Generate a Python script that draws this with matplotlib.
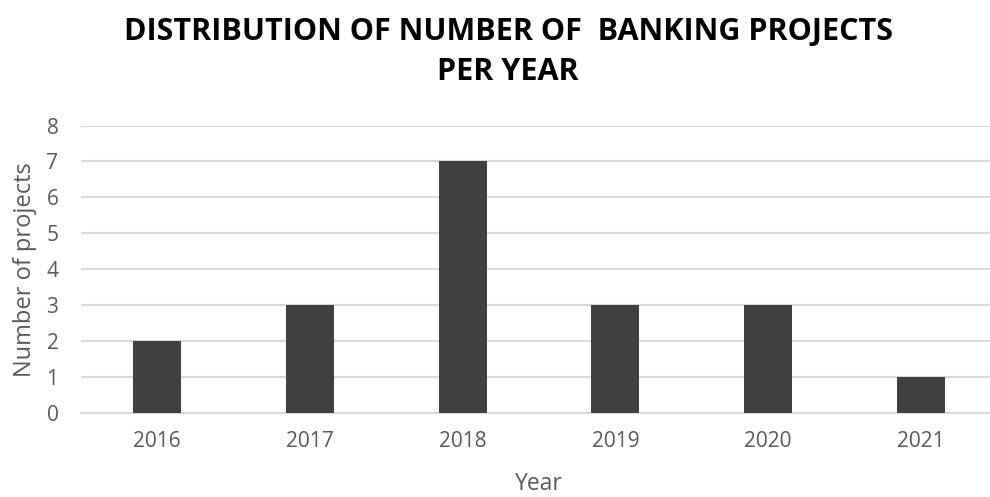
import matplotlib.pyplot as plt

years = ["2016", "2017", "2018", "2019", "2020", "2021"]
projects = [2, 3, 7, 3, 3, 1]

plt.rcParams['font.family'] = ['Open Sans', 'DejaVu Sans']

fig = plt.figure(figsize=(9.9, 4.97), dpi=100)
# axes runs a little past the right edge, gridlines get cut there
ax = fig.add_axes([80.6 / 990, 84 / 497, 916.8 / 990, 287.5 / 497])

x = range(len(years))
ax.bar(x, projects, width=0.315, color="#404040", zorder=3)

ax.set_xlim(-0.5, len(years) - 0.5)
ax.set_ylim(0, 8)
ax.set_yticks(range(0, 9))
ax.set_xticks(list(x))
ax.set_xticklabels(years)
ax.yaxis.grid(True, color="#d9d9d9", linewidth=1.5, zorder=0)
ax.set_axisbelow(True)

for s in ["top", "right", "left"]:
    ax.spines[s].set_visible(False)
ax.spines["bottom"].set_color("#d9d9d9")
ax.spines["bottom"].set_linewidth(1.5)
ax.tick_params(axis="both", length=0, labelsize=15, colors="#595959")
ax.tick_params(axis="y", pad=16)
ax.tick_params(axis="x", pad=13)

ax.set_ylabel("Number of projects", fontsize=17, color="#595959", labelpad=7)
ax.set_xlabel("Year", fontsize=16.5, color="#595959", labelpad=14)

fig.text(508 / 990, 1 - 52 / 497,
         "DISTRIBUTION OF NUMBER OF  BANKING PROJECTS\nPER YEAR",
         ha="center", va="center", fontsize=22, fontweight="bold",
         color="#000000", linespacing=1.45)

fig.savefig("out.png", dpi=100)
